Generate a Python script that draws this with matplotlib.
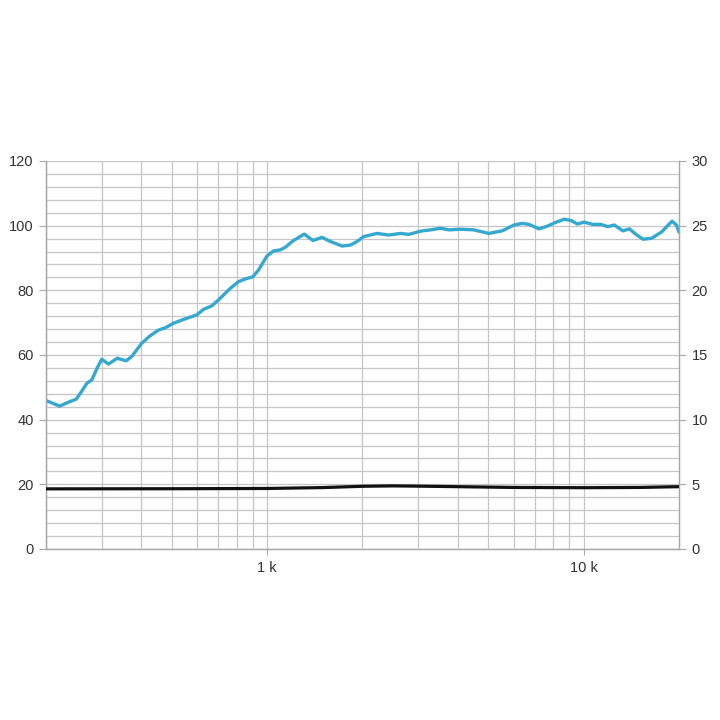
import numpy as np
import matplotlib
matplotlib.use('Agg')
import matplotlib.pyplot as plt
from matplotlib.ticker import FixedLocator, NullFormatter

plt.rcParams['font.family'] = ['Liberation Sans', 'DejaVu Sans']

# curva azul (eixo esquerdo)
freq_azul = [200, 221, 238, 249, 259, 269, 279, 290, 300, 315, 336, 358, 373, 401, 426, 453, 476,
             505, 544, 599, 629, 668, 701, 764, 812, 852, 901, 939, 998, 1047, 1099, 1140, 1211,
             1309, 1395, 1490, 1583, 1724, 1831, 1922, 2015, 2222, 2421, 2636, 2802, 3050, 3281,
             3530, 3749, 4080, 4495, 5010, 5530, 6020, 6390, 6710, 7230, 7690, 8150, 8680, 9120,
             9560, 10040, 10660, 11330, 11900, 12500, 13290, 13960, 14490, 15390, 16380, 17650,
             19010, 19630, 20000]
nivel_azul = [45.9, 44.2, 45.6, 46.3, 48.7, 51.2, 52.3, 55.9, 58.7, 57.2, 59.0, 58.2, 59.5, 63.6,
              65.9, 67.7, 68.4, 69.8, 71.0, 72.4, 74.1, 75.2, 77.0, 80.6, 82.7, 83.5, 84.2, 86.3,
              90.6, 92.2, 92.5, 93.3, 95.4, 97.4, 95.4, 96.4, 95.1, 93.7, 94.0, 95.1, 96.6, 97.6,
              97.1, 97.6, 97.3, 98.3, 98.7, 99.2, 98.7, 98.9, 98.7, 97.6, 98.4, 100.2, 100.7,
              100.4, 99.0, 99.9, 101.0, 102.0, 101.6, 100.5, 101.1, 100.4, 100.4, 99.7, 100.2,
              98.4, 99.0, 97.6, 95.8, 96.1, 98.1, 101.4, 100.2, 98.1]

# curva preta (eixo direito)
freq_preta = [200, 500, 1000, 1500, 2000, 2500, 3000, 4000, 6000, 10000, 15000, 20000]
nivel_preta = [4.65, 4.66, 4.68, 4.75, 4.85, 4.88, 4.86, 4.82, 4.76, 4.74, 4.76, 4.82]

esq_ticks = [0, 20, 40, 60, 80, 100, 120]
dir_ticks = [0, 5, 10, 15, 20, 25, 30]
x_ticks = [1000, 10000]
x_labels = ['1 k', '10 k']

cinza = '#c6c6c6'

fig = plt.figure(figsize=(7.2, 7.2), dpi=100)
ax = fig.add_axes([46 / 720, 1 - 549 / 720, (679 - 46) / 720, (549 - 161) / 720])
ax2 = ax.twinx()

ax.set_xscale('log')
ax.set_xlim(200, 20000)
ax.set_ylim(0, 120)
ax2.set_ylim(0, 30)

# grade
ax.xaxis.set_major_locator(FixedLocator(x_ticks))
minors = [m * d for d in (100, 1000) for m in range(2, 10)]
ax.xaxis.set_minor_locator(FixedLocator(minors))
ax.xaxis.set_minor_formatter(NullFormatter())
ax.set_xticklabels(x_labels)
ax.set_yticks(esq_ticks)
ax.set_yticks(np.arange(0, 121, 4), minor=True)
ax2.set_yticks(dir_ticks)
ax.grid(True, which='both', color=cinza, linewidth=0.9)
ax.set_axisbelow(True)

ax.plot(freq_azul, nivel_azul, color='#35a8d0', linewidth=2.4, solid_joinstyle='round', zorder=3)
ax2.plot(freq_preta, nivel_preta, color='#111111', linewidth=2.3, zorder=3)

for a in (ax, ax2):
    for s in a.spines.values():
        s.set_color('#a8a8a8')
        s.set_linewidth(0.9)
    a.spines['top'].set_visible(False)

ax.tick_params(axis='y', which='major', length=5, color='#a8a8a8', labelsize=10.5,
               labelcolor='#333333', pad=4)
ax.tick_params(axis='y', which='minor', length=0)
ax.tick_params(axis='x', which='major', length=4, color='#a8a8a8', labelsize=10.5,
               labelcolor='#333333', pad=5)
ax.tick_params(axis='x', which='minor', length=0)
ax2.tick_params(axis='y', length=5, color='#a8a8a8', labelsize=10.5, labelcolor='#333333', pad=4)

fig.savefig('out.png', dpi=100)
